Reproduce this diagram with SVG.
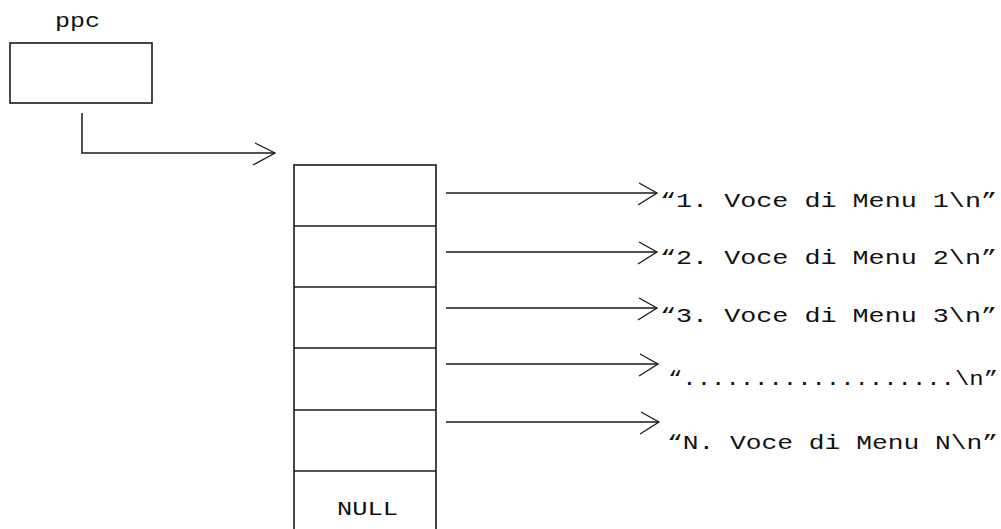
<svg xmlns="http://www.w3.org/2000/svg" width="1001" height="529" viewBox="0 0 1001 529">
  <style>
    .box { fill: #ffffff; stroke: #1a1a1a; stroke-width: 1.6; }
    .line { fill: none; stroke: #1a1a1a; stroke-width: 1.5; }
    .head { fill: none; stroke: #1a1a1a; stroke-width: 1.3; }
    .t { font-family: "Liberation Mono", "Courier New", monospace; font-size: 20px; fill: #111111; }
  </style>
  <rect width="1001" height="529" fill="#ffffff"/>

  <!-- pointer variable -->
  <g id="ppc">
    <text class="t" x="55" y="27" textLength="45" lengthAdjust="spacingAndGlyphs">ppc</text>
    <rect class="box" x="10" y="43" width="142" height="60"/>
  </g>

  <!-- array of string pointers, terminated by NULL -->
  <g id="array">
    <rect class="box" x="294" y="165" width="142" height="380"/>
    <line class="line" x1="294" y1="226" x2="436" y2="226"/>
    <line class="line" x1="294" y1="287" x2="436" y2="287"/>
    <line class="line" x1="294" y1="348" x2="436" y2="348"/>
    <line class="line" x1="294" y1="410" x2="436" y2="410"/>
    <line class="line" x1="294" y1="471" x2="436" y2="471"/>
    <text class="t" x="337" y="515" textLength="61" lengthAdjust="spacingAndGlyphs">NULL</text>
  </g>

  <!-- menu strings -->
  <g id="str1"><text class="t" x="660" y="207" textLength="337" lengthAdjust="spacingAndGlyphs">“1. Voce di Menu 1\n”</text></g>
  <g id="str2"><text class="t" x="660" y="264" textLength="337" lengthAdjust="spacingAndGlyphs">“2. Voce di Menu 2\n”</text></g>
  <g id="str3"><text class="t" x="660" y="322" textLength="337" lengthAdjust="spacingAndGlyphs">“3. Voce di Menu 3\n”</text></g>
  <g id="str4"><text class="t" x="668" y="385" textLength="330" lengthAdjust="spacingAndGlyphs">“...................\n”</text></g>
  <g id="str5"><text class="t" x="667" y="449" textLength="331" lengthAdjust="spacingAndGlyphs">“N. Voce di Menu N\n”</text></g>

  <!-- connectors with open arrowheads -->
  <g id="connectors">
    <polyline class="line" points="82,113 82,153 275,153"/>
    <polyline class="head" points="255,143 275,153 253,165"/>

    <line class="line" x1="446" y1="193" x2="657" y2="193"/>
    <polyline class="head" points="639,183 657,193 638,205"/>

    <line class="line" x1="446" y1="252" x2="657" y2="252"/>
    <polyline class="head" points="639,242 657,252 638,264"/>

    <line class="line" x1="446" y1="308" x2="657" y2="308"/>
    <polyline class="head" points="639,298 657,308 638,320"/>

    <line class="line" x1="446" y1="364" x2="658" y2="364"/>
    <polyline class="head" points="640,354 658,364 639,376"/>

    <line class="line" x1="446" y1="422" x2="659" y2="422"/>
    <polyline class="head" points="641,412 659,422 640,434"/>
  </g>
</svg>
